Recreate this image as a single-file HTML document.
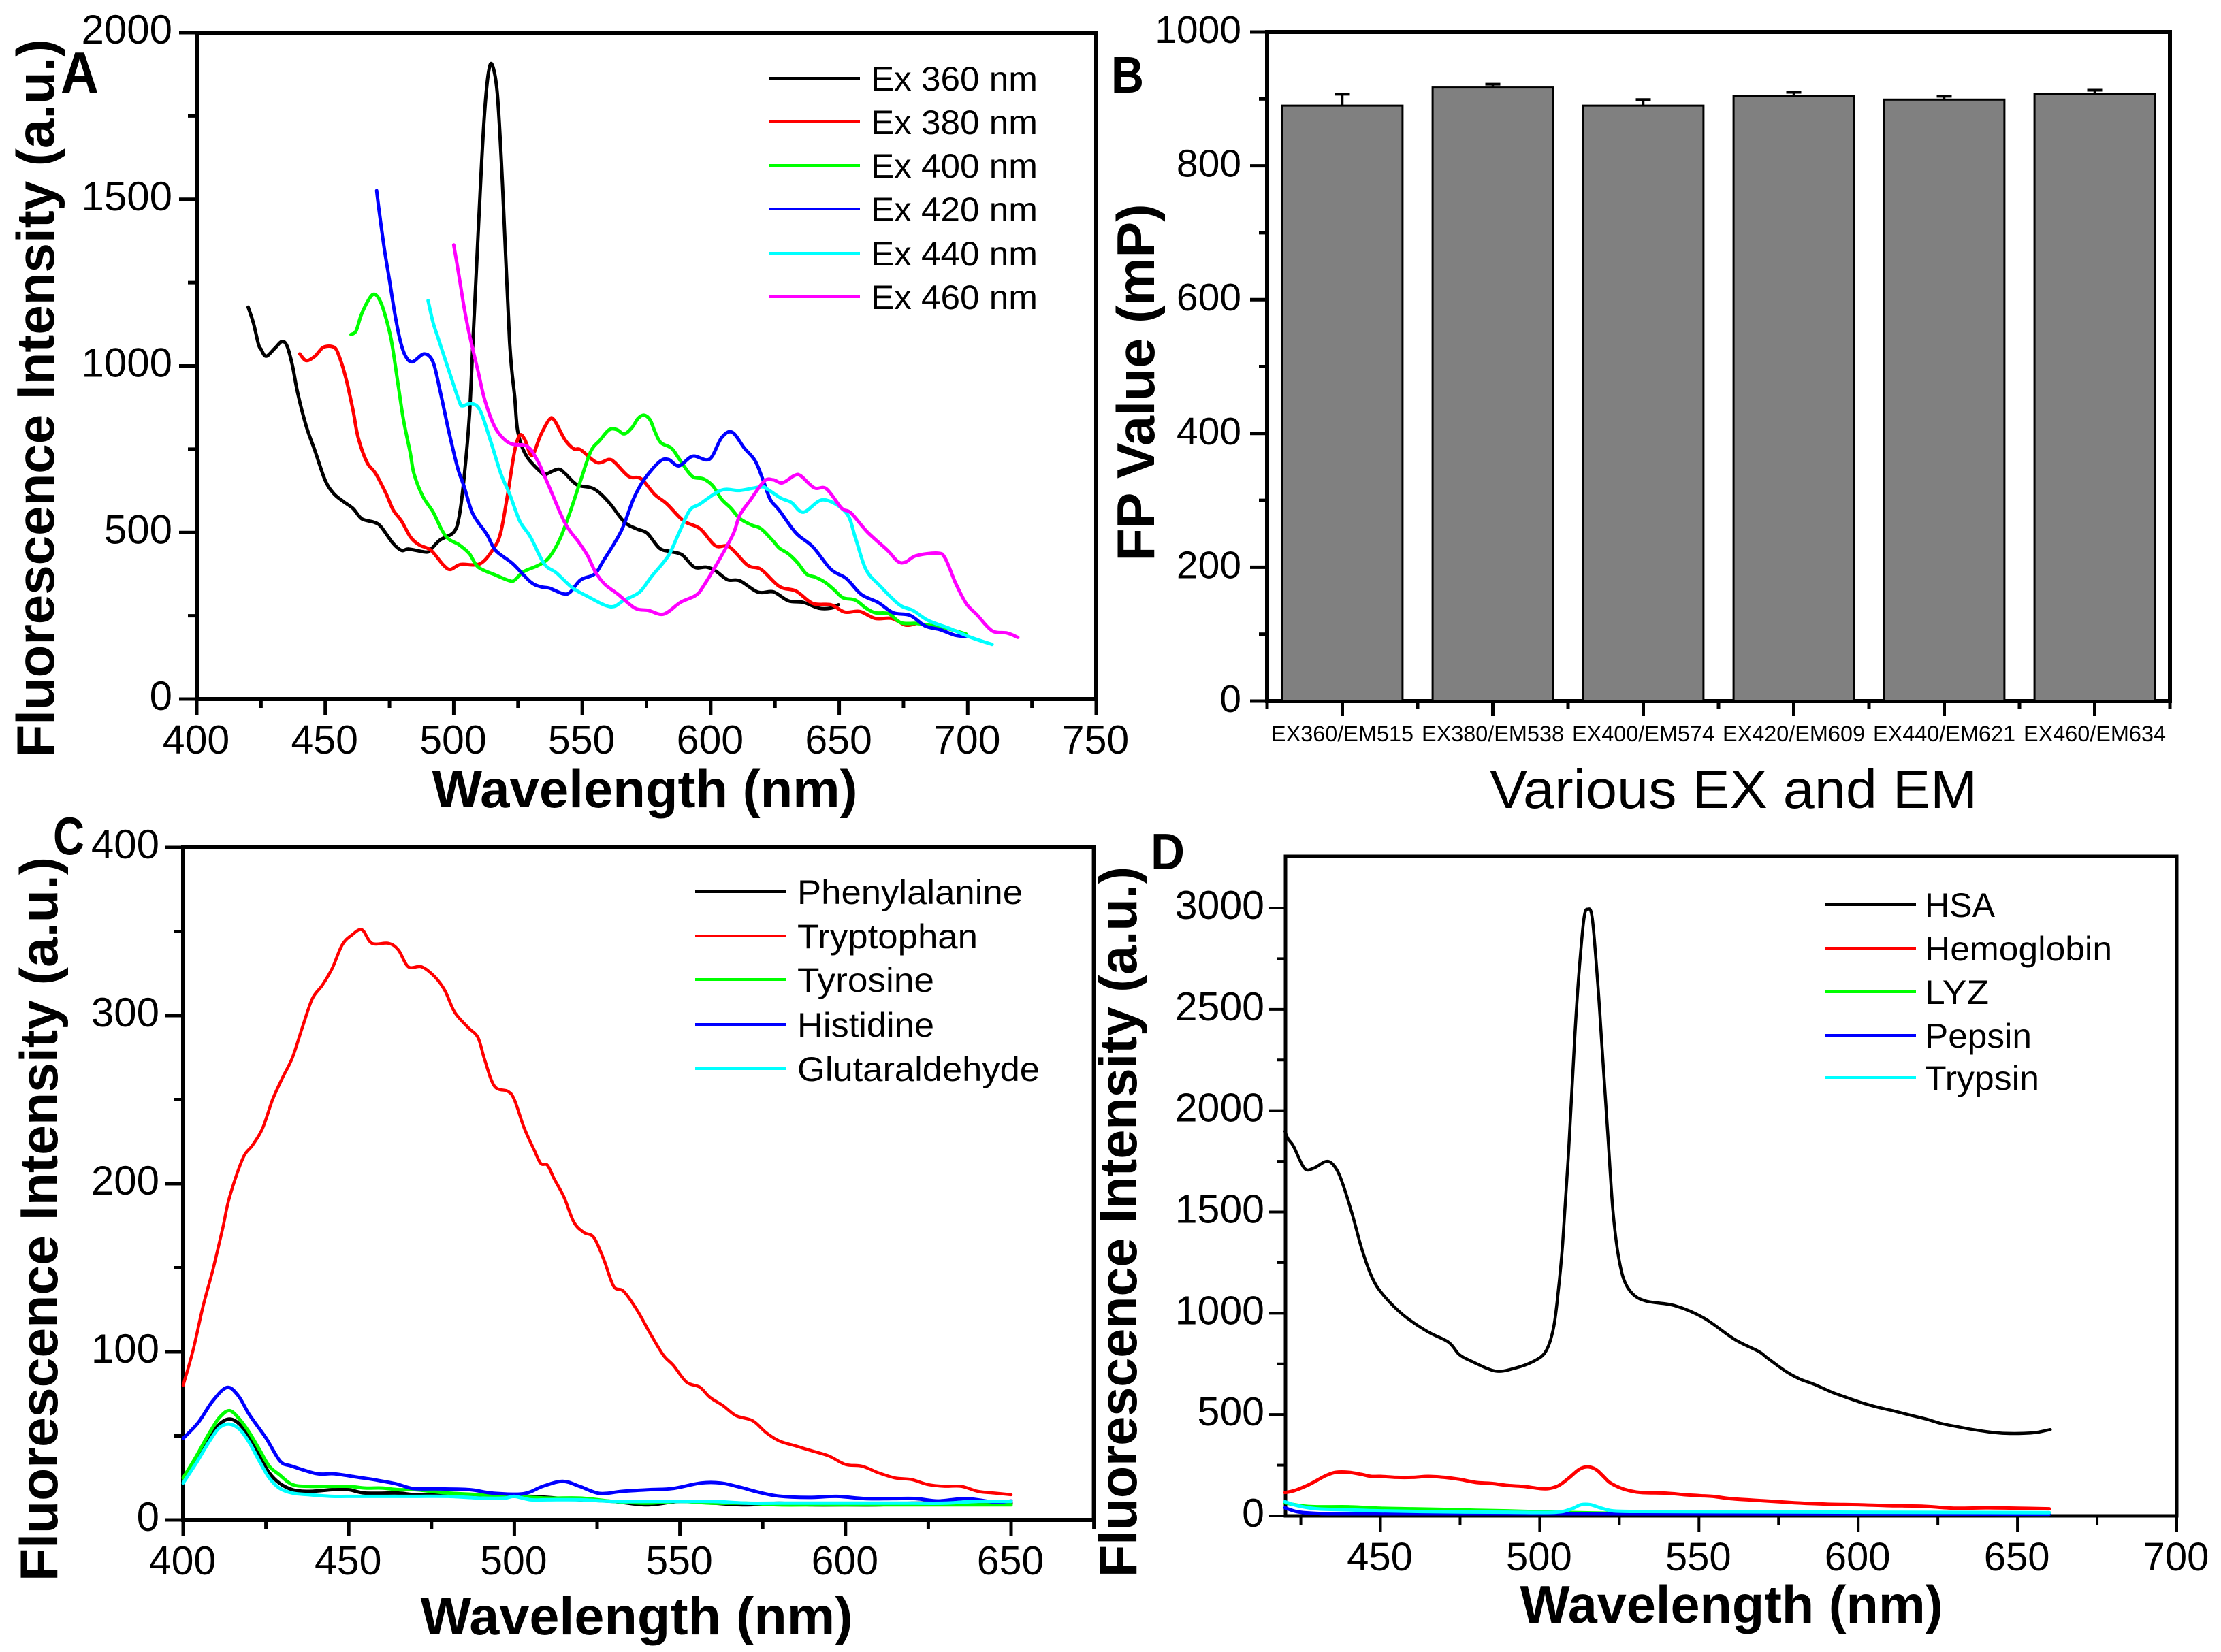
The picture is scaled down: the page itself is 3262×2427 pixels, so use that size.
<!DOCTYPE html>
<html lang="en">
<head>
<meta charset="utf-8">
<title>Fluorescence spectra panels A-D</title>
<style>
html,body{margin:0;padding:0;background:#fff;}
svg{display:block;}
text{font-family:"Liberation Sans",Arial,sans-serif;fill:#000;}
.title{font-weight:bold;font-size:78px;}
.leg{font-size:50px;}
.tick{font-size:59px;}
.plabel{font-weight:bold;}
</style>
</head>
<body>
<svg id="chart" xmlns="http://www.w3.org/2000/svg" width="3262" height="2427" viewBox="0 0 3262 2427">
<rect width="3262" height="2427" fill="#fff"/>
<g id="panel-a"></g>
<g id="panel-b"></g>
<g id="panel-c"></g>
<g id="panel-d"></g>

<text class="plabel" x="89" y="136" font-size="85" textLength="56" lengthAdjust="spacingAndGlyphs">A</text>
<text class="plabel" x="1632" y="136" font-size="75" textLength="48" lengthAdjust="spacingAndGlyphs">B</text>
<text class="plabel" x="78" y="1255" font-size="78" textLength="46" lengthAdjust="spacingAndGlyphs">C</text>
<text class="plabel" x="1690" y="1277" font-size="75" textLength="50" lengthAdjust="spacingAndGlyphs">D</text>

<text class="title" text-anchor="middle" transform="translate(79,585) rotate(-90)" textLength="1055" lengthAdjust="spacingAndGlyphs">Fluorescence Intensity (a.u.)</text>
<text class="title" text-anchor="middle" x="947" y="1186" textLength="625" lengthAdjust="spacingAndGlyphs">Wavelength (nm)</text>
<text class="title" text-anchor="middle" transform="translate(1695,562) rotate(-90)" textLength="525" lengthAdjust="spacingAndGlyphs">FP Value (mP)</text>
<text text-anchor="middle" x="2546" y="1187" font-size="80" textLength="716" lengthAdjust="spacingAndGlyphs">Various EX and EM</text>
<text class="title" text-anchor="middle" transform="translate(84,1791) rotate(-90)" textLength="1064" lengthAdjust="spacingAndGlyphs">Fluorescence Intensity (a.u.)</text>
<text class="title" text-anchor="middle" x="935" y="2401" textLength="635" lengthAdjust="spacingAndGlyphs">Wavelength (nm)</text>
<text class="title" text-anchor="middle" transform="translate(1669,1795) rotate(-90)" textLength="1044" lengthAdjust="spacingAndGlyphs">Fluorescence Intensity (a.u.)</text>
<text class="title" text-anchor="middle" x="2543" y="2384" textLength="621" lengthAdjust="spacingAndGlyphs">Wavelength (nm)</text>

<g>
<line x1="1129" x2="1263" y1="115" y2="115" stroke="#000" stroke-width="4"/>
<text class="leg" x="1279" y="133" textLength="245" lengthAdjust="spacingAndGlyphs">Ex 360 nm</text>
<line x1="1129" x2="1263" y1="179" y2="179" stroke="#f00" stroke-width="4"/>
<text class="leg" x="1279" y="197" textLength="245" lengthAdjust="spacingAndGlyphs">Ex 380 nm</text>
<line x1="1129" x2="1263" y1="243" y2="243" stroke="#0f0" stroke-width="4"/>
<text class="leg" x="1279" y="261" textLength="245" lengthAdjust="spacingAndGlyphs">Ex 400 nm</text>
<line x1="1129" x2="1263" y1="307" y2="307" stroke="#00f" stroke-width="4"/>
<text class="leg" x="1279" y="325" textLength="245" lengthAdjust="spacingAndGlyphs">Ex 420 nm</text>
<line x1="1129" x2="1263" y1="372" y2="372" stroke="#0ff" stroke-width="4"/>
<text class="leg" x="1279" y="390" textLength="245" lengthAdjust="spacingAndGlyphs">Ex 440 nm</text>
<line x1="1129" x2="1263" y1="436" y2="436" stroke="#f0f" stroke-width="4"/>
<text class="leg" x="1279" y="454" textLength="245" lengthAdjust="spacingAndGlyphs">Ex 460 nm</text>
</g>

<g>
<line x1="1021" x2="1155" y1="1310" y2="1310" stroke="#000" stroke-width="4"/>
<text class="leg" x="1171" y="1328" textLength="331" lengthAdjust="spacingAndGlyphs">Phenylalanine</text>
<line x1="1021" x2="1155" y1="1375" y2="1375" stroke="#f00" stroke-width="4"/>
<text class="leg" x="1171" y="1393" textLength="265" lengthAdjust="spacingAndGlyphs">Tryptophan</text>
<line x1="1021" x2="1155" y1="1439" y2="1439" stroke="#0f0" stroke-width="4"/>
<text class="leg" x="1171" y="1457" textLength="201" lengthAdjust="spacingAndGlyphs">Tyrosine</text>
<line x1="1021" x2="1155" y1="1505" y2="1505" stroke="#00f" stroke-width="4"/>
<text class="leg" x="1171" y="1523" textLength="201" lengthAdjust="spacingAndGlyphs">Histidine</text>
<line x1="1021" x2="1155" y1="1570" y2="1570" stroke="#0ff" stroke-width="4"/>
<text class="leg" x="1171" y="1588" textLength="356" lengthAdjust="spacingAndGlyphs">Glutaraldehyde</text>
</g>

<g>
<line x1="2681" x2="2814" y1="1329" y2="1329" stroke="#000" stroke-width="4"/>
<text class="leg" x="2827" y="1347" textLength="103" lengthAdjust="spacingAndGlyphs">HSA</text>
<line x1="2681" x2="2814" y1="1393" y2="1393" stroke="#f00" stroke-width="4"/>
<text class="leg" x="2827" y="1411" textLength="275" lengthAdjust="spacingAndGlyphs">Hemoglobin</text>
<line x1="2681" x2="2814" y1="1457" y2="1457" stroke="#0f0" stroke-width="4"/>
<text class="leg" x="2827" y="1475" textLength="94" lengthAdjust="spacingAndGlyphs">LYZ</text>
<line x1="2681" x2="2814" y1="1521" y2="1521" stroke="#00f" stroke-width="4"/>
<text class="leg" x="2827" y="1539" textLength="157" lengthAdjust="spacingAndGlyphs">Pepsin</text>
<line x1="2681" x2="2814" y1="1583" y2="1583" stroke="#0ff" stroke-width="4"/>
<text class="leg" x="2827" y="1601" textLength="168" lengthAdjust="spacingAndGlyphs">Trypsin</text>
</g>
</svg>

<script>
/* ---------- Panel A data ---------- */
const aXTickValues = [400,450,500,550,600,650,700,750];
const aXMinorValues = [425,475,525,575,625,675,725];
const aYTickValues = [0,500,1000,1500,2000];
const aYMinorValues = [250,750,1250,1750];

const ex360X = [420,422,424,425,427,430.4,433.1,435.1,437.2,439.2,442.6,446,450,453.4,457,460.8,464.2,468.9,471.6,476.4,479.7,482.5,489.2,491.2,494.6,500,502.1,504.1,506.1,507.5,509,510.5,512,513.5,515,517,519,521.7,523.7,525,528.4,534.5,535.9,540.6,543.3,548,554.5,560.4,566.3,571.1,575.2,580,584.1,588.8,593.6,598.3,601.8,606.6,611.3,618.4,624.3,630.2,636.1,642,646.8,649.7];
const ex360Y = [1176,1130,1065,1050,1029,1053,1073,1060,1002,921,819,745,656,616,593,572,541,531,518,467,446,450,441,450,477,501,548,670,853,1077,1320,1560,1760,1880,1903,1812,1540,1077,907,799,728,677,675,690,677,643,631,590,532,511,498,453,443,433,396,396,385,358,355,321,322,295,290,273,273,283];

const ex380X = [440.1,442.6,446,449.3,453.4,455.4,458.1,460.8,462.8,466.2,469.6,473.7,476.4,479.7,483.1,486.5,491.2,496,498.7,502.7,510.2,515.6,518.3,521,523.7,525.7,527.7,530.4,533.8,537.2,539.2,543.3,546.7,549.4,555.7,560.4,562.8,568.1,572.9,578.2,582.9,589.4,595.9,601.8,607.2,614.3,619.6,626.7,633.2,639.7,646.8,652.1,658,664,670.5,675.8,680];
const ex380Y = [1036,1016,1029,1056,1056,1029,961,867,785,711,677,616,568,534,487,463,446,402,389,404,406,453,501,616,745,792,778,731,792,839,836,778,751,748,710,719,709,668,661,614,586,535,511,460,457,402,389,338,324,287,283,261,263,242,242,222,227];

const ex400X = [460,462,464,467,469,471,473,475.7,478.4,480.4,483.1,484.5,487.9,491.9,495.3,498,502.1,506.1,509.5,516.3,521.7,523.7,527.1,533.1,537.2,541.3,545.3,549.4,553.3,556.9,560.4,563.4,566.3,569.3,571.7,574,576.4,578.2,580.5,584.7,587.6,591.2,593.6,597.1,600.7,604.2,607.8,611.3,616,619.6,624.3,626.7,630.2,633.8,637.3,640.9,644.4,648,651.5,656.3,660.4,664,669.3,674,680,684.6,690.6,699.4];
const ex400Y = [1094,1105,1153,1200,1215,1200,1160,1077,941,839,738,677,609,562,508,480,463,436,396,372,355,357,382,402,426,480,562,657,743,777,808,809,796,814,842,852,838,804,770,753,722,682,665,661,641,600,573,542,522,511,474,453,436,409,375,365,351,328,304,297,273,259,256,229,227,222,215,195];

const ex420X = [470,471,473,475,477,479,481,483.8,488.5,491.9,494.6,498,501.4,504.1,507.5,512.9,516.3,523,529.8,533.8,537.2,542.6,545.3,549.4,554.8,558.4,565.2,569.9,574,580,583.5,587.6,593,599.5,604.2,608.3,613.1,617.2,620.2,623.1,626.7,633.2,639.7,646.8,652.7,658.6,665.1,671,677.6,683.5,689.4,695.3,700];
const ex420Y = [1526,1463,1351,1256,1160,1081,1033,1012,1036,1012,928,806,697,636,555,494,446,406,352,337,333,316,321,358,375,417,505,600,658,712,719,700,729,720,784,801,753,716,661,600,566,498,457,389,362,314,290,259,251,219,208,191,188];

const ex440X = [490,492,494.2,498,502.1,503.4,506.8,510.2,514.2,518.3,521.7,525.7,529.8,535.2,539.9,546,551.4,560.9,566.3,572.3,577,583.5,587.6,591.8,595.9,604.2,611.3,619.6,622,627.3,631.4,636.1,643.8,652.7,656.3,660.4,665.7,673.4,678.7,684.6,692.9,701.2,709.5];
const ex440Y = [1196,1129,1077,988,894,880,887,867,778,677,616,534,487,406,379,335,311,277,297,321,368,430,498,566,586,627,626,637,630,603,590,561,598,559,484,389,341,283,266,236,212,185,164];

const ex460X = [500,502,504,506,509.5,512.2,516.3,521.7,528.4,532.5,537.2,543.3,548.6,552.1,555.1,558.7,564,570.5,575.8,581.7,588.2,594.1,597.1,604.2,608.9,611.3,615.4,620.8,624.3,627.9,632.6,635,640.3,645,650.9,654.5,661,668.7,672.8,675.8,679.9,688.2,691.2,695.3,699.4,703.6,709.5,715.4,719.5];
const ex460Y = [1363,1272,1177,1097,982,894,812,768,759,717,636,528,471,430,382,345,314,273,266,255,290,311,338,430,498,552,597,654,658,649,671,670,634,631,573,559,501,447,413,411,430,438,423,348,287,253,205,198,185];

/* ---------- Panel B data ---------- */
const bCategories = ["EX360/EM515","EX380/EM538","EX400/EM574","EX420/EM609","EX440/EM621","EX460/EM634"];
const bValues = [890,917,890,904,899,907];
const bErrors = [17,5,9,6,5,6];
const bYTickValues = [0,200,400,600,800,1000];
const bYMinorValues = [100,300,500,700,900];

/* ---------- Panel C data ---------- */
const cXTickValues = [400,450,500,550,600,650];
const cXMinorValues = [425,475,525,575,625,675];
const cYTickValues = [0,100,200,300,400];
const cYMinorValues = [50,150,250,350];

const pheX = [400,404,408,411,414,417,420,423,426,429,433,438,445,450,455,465,470,480,490,497,505,520,530,540,550,560,570,580,590,600,610,620,630,640,650];
const pheY = [24,36,49,57,60,57,49,38,28,22,18,17,18,18,16,16,15,15,14,14,14,12,11,9,11,10,9,10,9,9,9,10,10,10,10];

const trpX = [400,403,406,409,412,414,418,421,424,427,430,433,436,439,442,445,448,451,454,457,462,465,468,472,476,479,482,486,489,491,494,498,500,503,506,508,510,512,515,518,521,524,527,530,533,537,541,545,548,552,556,559,563,567,572,576,580,585,590,595,600,605,610,615,620,625,630,635,640,645,650];
const trpY = [80,101,127,149,174,192,215,223,233,250,263,275,293,310,318,328,342,348,351,343,343,339,329,329,323,315,302,293,287,274,258,255,250,233,220,212,211,203,192,177,171,168,155,139,136,125,111,98,92,82,79,73,68,62,59,52,47,44,41,38,33,32,28,25,24,21,20,20,17,16,15];

const tyrX = [400,404,408,411,414,417,420,423,426,429,433,438,445,450,455,460,465,470,475,480,490,500,510,520,530,540,550,560,570,580,590,600,610,620,630,640,650];
const tyrY = [25,38,52,61,65,60,52,42,32,27,21,20,20,20,19,19,18,18,17,16,15,14,13,13,11,10,11,10,10,9,9,9,9,9,9,9,9];

const hisX = [400,404.6,408.9,413.2,416.6,420,425.1,429.3,432.8,440.4,445.5,452.4,457.5,464.3,469.4,476.2,486.5,493.3,502.7,508.6,514.6,519.7,525.7,532.5,541,547.8,556.4,562.3,568.3,573.4,579.4,588.8,597.3,605.8,614.3,621.2,628,636.5,645,650];
const hisY = [48.5,58,70.7,78.8,74,62.6,48.5,35,32,27.5,27.5,25.5,24,21.5,18.7,18.5,18,16,15.6,20,23,20,15.8,17,18,18.7,22,22,19.4,16.7,14.3,13.4,14,12.7,12.7,12.7,11.3,12.7,10.6,11.3];

const gluX = [400,404,408,411,414,417,420,423,426,429,433,438,445,450,460,470,480,490,497,500,505,510,520,530,540,550,560,570,580,590,600,610,620,630,640,650];
const gluY = [22,34,47,55,57,54,46,35,25,19,16,15,14,14,14,14,14,13,13,14,12,12,12,11,11,11,11,10,10,10,10,10,10,10,11,11];

/* ---------- Panel D data ---------- */
const dXTickValues = [450,500,550,600,650,700];
const dXMinorValues = [425,475,525,575,625,675];
const dYTickValues = [0,500,1000,1500,2000,2500,3000];
const dYMinorValues = [250,750,1250,1750,2250,2750];

const hsaX = [420,421,422.7,426.1,429,432.8,435.1,437.5,440.9,444.2,447.5,450.9,457.1,464.7,471.4,474.7,478.6,486,492,498.1,501.9,504.3,505.8,507.2,509.1,511,512.4,513.9,515.1,516.5,518.2,519.6,521.5,522.9,524.4,526.3,529.1,533.4,542.5,551.5,561.1,568.7,571.4,577.1,581.6,586.2,591.8,596.4,601.4,605.4,611.1,615.6,621.3,625.8,631.5,636,641.7,646.2,651.9,656.4,660.3];
const hsaY = [1898,1860,1824,1716,1716,1749,1734,1667,1502,1314,1172,1090,992,910,857,797,763,715,728,763,812,925,1105,1344,1809,2364,2694,2949,2994,2949,2634,2304,1854,1524,1314,1172,1097,1060,1037,977,872,812,780,715,676,649,610,584,557,539,518,500,478,457,439,426,413,407,407,413,426];

const hemX = [420,423,427,430,433,436,440,444,447,450,455,460,465,470,475,480,485,490,495,500,503,506,509,512,514,516,518,520,522,525,528,532,540,545,550,555,560,570,580,590,600,610,620,630,640,650,660];
const hemY = [115,125,150,175,200,215,215,205,195,195,190,190,195,190,180,165,160,150,145,135,135,150,185,225,240,240,225,195,165,140,125,115,112,105,100,95,85,75,65,58,55,50,48,38,40,38,35];

const lyzX = [420,425,430,440,450,460,470,480,490,500,505,515,530,560,660];
const lyzY = [65,50,45,45,38,35,32,28,25,20,18,15,12,10,8];

const pepX = [420,424,430,440,500,515,660];
const pepY = [40,20,12,10,10,10,8];

const tryX = [420,424,430,440,450,470,490,505,510,513,516,519,523,530,560,600,660];
const tryY = [70,50,35,30,25,20,18,18,35,55,55,40,25,22,20,18,16];

/* ---------- Axis functions ---------- */
function linear(d0, d1, r0, r1) {
  return function (v) { return r0 + (v - d0) * (r1 - r0) / (d1 - d0); };
}
const xA = linear(400, 750, 289, 1610);
const yA = linear(0, 2000, 1027, 48);
const xB = linear(0.5, 6.5, 1861, 3187);
const yB = linear(0, 1000, 1030, 47);
const xC = linear(400, 650, 269, 1485);
const yC = linear(0, 400, 2233, 1245);
const xD = linear(450, 700, 2027.5, 3197);
const yD = linear(0, 3000, 2227, 1334);

const SVGNS = "http://www.w3.org/2000/svg";
function shape(parent, tag, attrs) {
  const el = document.createElementNS(SVGNS, tag);
  for (const k in attrs) el.setAttribute(k, attrs[k]);
  parent.appendChild(el);
  return el;
}

function drawFrame(parent, x0, x1, y0, y1, sw) {
  const el = shape(parent, "rect", { x: x0, y: y1, width: x1 - x0, height: y0 - y1, fill: "none", stroke: "#000", "stroke-width": sw });
  
  
}

function drawXTicks(parent, scale, y0, values, len, sw, labelled, labelY, fontSize) {
  values.forEach(function (v) {
    const t = shape(parent, "line", { x1: scale(v), x2: scale(v), y1: y0, y2: y0 + len, stroke: "#000", "stroke-width": sw });
    
    
    if (labelled) {
      const l = shape(parent, "text", { x: scale(v) - 1, y: labelY, "text-anchor": "middle", "font-size": fontSize });
      
      
      l.textContent = String(v);
    }
  });
}

function drawYTicks(parent, scale, x0, values, len, sw, labelled, labelX, fontSize) {
  values.forEach(function (v) {
    const t = shape(parent, "line", { x1: x0 - len, x2: x0, y1: scale(v), y2: scale(v), stroke: "#000", "stroke-width": sw });
    
    
    if (labelled) {
      const l = shape(parent, "text", { x: labelX, y: scale(v) + 16, "text-anchor": "end", "font-size": fontSize });
      
      
      l.textContent = String(v);
    }
  });
}

/* Smooth spline through the data points of a series */
function drawLine(parent, sx, sy, xs, ys, color, width, name) {
  const p = xs.map(function (x, i) { return [sx(x), sy(ys[i])]; });
  let d = "M" + p[0][0].toFixed(1) + " " + p[0][1].toFixed(1);
  for (let i = 0; i < p.length - 1; i++) {
    const a = p[Math.max(i - 1, 0)], b = p[i], c = p[i + 1], e = p[Math.min(i + 2, p.length - 1)];
    const c1x = b[0] + (c[0] - a[0]) / 6, c1y = b[1] + (c[1] - a[1]) / 6;
    const c2x = c[0] - (e[0] - b[0]) / 6, c2y = c[1] - (e[1] - b[1]) / 6;
    d += "C" + c1x.toFixed(1) + " " + c1y.toFixed(1) + " " + c2x.toFixed(1) + " " + c2y.toFixed(1) + " " + c[0].toFixed(1) + " " + c[1].toFixed(1);
  }
  const el = shape(parent, "path", { d: d, fill: "none", stroke: color, "stroke-width": width, "stroke-linejoin": "round", "stroke-linecap": "round" });
  
  
}

/* ---------- Panel A ---------- */
const gA = document.getElementById("panel-a");
drawFrame(gA, xA(400), xA(750), yA(0), yA(2000), 6);
drawXTicks(gA, xA, yA(0), aXTickValues, 24, 5, true, 1107, 59);
drawXTicks(gA, xA, yA(0), aXMinorValues, 13, 5, false);
drawYTicks(gA, yA, xA(400), aYTickValues, 26, 5, true, 253, 60);
drawYTicks(gA, yA, xA(400), aYMinorValues, 13, 5, false);
drawLine(gA, xA, yA, ex360X, ex360Y, "#000", 5, "ex-360-line");
drawLine(gA, xA, yA, ex380X, ex380Y, "#f00", 5, "ex-380-line");
drawLine(gA, xA, yA, ex400X, ex400Y, "#0f0", 5, "ex-400-line");
drawLine(gA, xA, yA, ex420X, ex420Y, "#00f", 5, "ex-420-line");
drawLine(gA, xA, yA, ex440X, ex440Y, "#0ff", 5, "ex-440-line");
drawLine(gA, xA, yA, ex460X, ex460Y, "#f0f", 5, "ex-460-line");

/* ---------- Panel B ---------- */
const gB = document.getElementById("panel-b");
drawFrame(gB, xB(0.5), xB(6.5), yB(0), yB(1000), 6);
drawYTicks(gB, yB, xB(0.5), bYTickValues, 25, 5, true, 1823, 57);
drawYTicks(gB, yB, xB(0.5), bYMinorValues, 12, 5, false);
bCategories.forEach(function (cat, i) {
  const pos = i + 1;
  const barW = xB(1.4) - xB(0.6);
  const errTop = yB(bValues[i] + bErrors[i]);
  const err = shape(gB, "line", { x1: xB(pos), x2: xB(pos), y1: yB(bValues[i]), y2: errTop, stroke: "#000", "stroke-width": 3.5 });
  
  
  const cap = shape(gB, "line", { x1: xB(pos) - 11, x2: xB(pos) + 11, y1: errTop, y2: errTop, stroke: "#000", "stroke-width": 4 });
  
  
  const bar = shape(gB, "rect", { x: xB(pos) - barW / 2, y: yB(bValues[i]), width: barW, height: yB(0) - yB(bValues[i]), fill: "#808080", stroke: "#000", "stroke-width": 3 });
  
  
  const tick = shape(gB, "line", { x1: xB(pos), x2: xB(pos), y1: yB(0), y2: yB(0) + 22, stroke: "#000", "stroke-width": 5 });
  
  
  const label = shape(gB, "text", { x: xB(pos), y: 1089, "text-anchor": "middle", "font-size": 32, textLength: 209, lengthAdjust: "spacingAndGlyphs" });
  
  
  label.textContent = cat;
  const minor = shape(gB, "line", { x1: xB(pos - 0.5), x2: xB(pos - 0.5), y1: yB(0), y2: yB(0) + 12, stroke: "#000", "stroke-width": 5 });
  
  
});
const lastMinorB = shape(gB, "line", { x1: xB(6.5), x2: xB(6.5), y1: yB(0), y2: yB(0) + 12, stroke: "#000", "stroke-width": 5 });



/* ---------- Panel C ---------- */
const gC = document.getElementById("panel-c");
drawFrame(gC, xC(400), xC(675), yC(0), yC(400), 6);
drawXTicks(gC, xC, yC(0), cXTickValues, 24, 5, true, 2313, 59);
drawXTicks(gC, xC, yC(0), cXMinorValues, 13, 5, false);
drawYTicks(gC, yC, xC(400), cYTickValues, 26, 5, true, 234, 60);
drawYTicks(gC, yC, xC(400), cYMinorValues, 13, 5, false);
drawLine(gC, xC, yC, pheX, pheY, "#000", 5, "phenylalanine-line");
drawLine(gC, xC, yC, trpX, trpY, "#f00", 4.5, "tryptophan-line");
drawLine(gC, xC, yC, tyrX, tyrY, "#0f0", 5, "tyrosine-line");
drawLine(gC, xC, yC, hisX, hisY, "#00f", 5, "histidine-line");
drawLine(gC, xC, yC, gluX, gluY, "#0ff", 5, "glutaraldehyde-line");

/* ---------- Panel D ---------- */
const gD = document.getElementById("panel-d");
drawFrame(gD, 1888, 3197, yD(0), 1258, 5);
drawXTicks(gD, xD, yD(0), dXTickValues, 24, 4, true, 2307, 58);
drawXTicks(gD, xD, yD(0), dXMinorValues, 13, 4, false);
drawYTicks(gD, yD, 1888, dYTickValues, 24, 4, true, 1857, 59);
drawYTicks(gD, yD, 1888, dYMinorValues, 12, 4, false);
drawLine(gD, xD, yD, hsaX, hsaY, "#000", 4.5, "hsa-line");
drawLine(gD, xD, yD, hemX, hemY, "#f00", 5, "hemoglobin-line");
drawLine(gD, xD, yD, lyzX, lyzY, "#0f0", 5, "lyz-line");
drawLine(gD, xD, yD, pepX, pepY, "#00f", 5, "pepsin-line");
drawLine(gD, xD, yD, tryX, tryY, "#0ff", 5, "trypsin-line");
</script>
</body>
</html>
